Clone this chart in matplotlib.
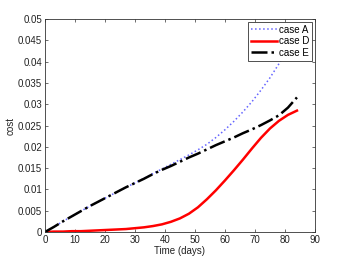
import numpy as np
import matplotlib.pyplot as plt

# values
days = [0, 3, 6, 9, 12, 15, 18, 21, 24, 27, 30, 33, 36, 39, 42, 45, 48, 51, 54,
        57, 60, 63, 66, 69, 72, 75, 78, 81, 84]
case_a = [0, 0.0012, 0.0025, 0.0037, 0.0049, 0.0061, 0.0072, 0.0083, 0.0094, 0.0105,
          0.0115, 0.0126, 0.0137, 0.0148, 0.0159, 0.0170, 0.0181, 0.0193, 0.0206,
          0.0222, 0.0240, 0.0260, 0.0282, 0.0306, 0.0333, 0.0362, 0.0395, 0.0430, 0.0468]
case_d = [0, 0.0001, 0.0001, 0.0002, 0.0002, 0.0003, 0.0004, 0.0005, 0.0006, 0.0007,
          0.0009, 0.0011, 0.0014, 0.0018, 0.0024, 0.0032, 0.0043, 0.0058, 0.0077,
          0.0098, 0.0121, 0.0145, 0.0170, 0.0196, 0.0221, 0.0243, 0.0261, 0.0275, 0.0285]
case_e = [0, 0.0012, 0.0025, 0.0037, 0.0049, 0.0061, 0.0072, 0.0083, 0.0094, 0.0105,
          0.0115, 0.0125, 0.0136, 0.0146, 0.0155, 0.0165, 0.0175, 0.0184, 0.0194,
          0.0204, 0.0213, 0.0222, 0.0232, 0.0241, 0.0251, 0.0262, 0.0274, 0.0292, 0.0316]

plt.rcParams['font.family'] = ['Liberation Sans', 'DejaVu Sans']
plt.rcParams['font.size'] = 7

fig = plt.figure(figsize=(3.48, 2.61), dpi=100)
ax = fig.add_axes([0.129, 0.111, 0.776, 0.816])

ax.plot(days, case_a, ':', color='#6464ff', linewidth=1.1, label='case A')
ax.plot(days, case_d, '-', color='red', linewidth=1.8, label='case D')
ax.plot(days, case_e, '-.', color='black', linewidth=1.8, label='case E')

ax.set_xlim(0, 90)
ax.set_ylim(0, 0.05)
ax.set_xticks(np.arange(0, 91, 10))
ax.set_yticks(np.arange(0, 0.0501, 0.005))
ax.set_yticklabels(['0', '0.005', '0.01', '0.015', '0.02', '0.025', '0.03',
                    '0.035', '0.04', '0.045', '0.05'])
ax.tick_params(direction='in', top=True, right=True, length=2.5, width=0.5, pad=2,
               labelsize=7, labelcolor='#222222', color='#333333')
for s in ax.spines.values():
    s.set_linewidth(0.6)
    s.set_color('#333333')

ax.set_xlabel('Time (days)', fontsize=7, labelpad=1, color='#222222')
ax.set_ylabel('cost', fontsize=7, labelpad=2, color='#222222')

leg = ax.legend(loc='upper right', fontsize=7, fancybox=False, framealpha=1,
                edgecolor='#333333', borderpad=0.3, labelspacing=0.15,
                handlelength=2.7, handletextpad=0.2, borderaxespad=0.3)
leg.get_frame().set_linewidth(0.6)

fig.savefig('out.png', dpi=100)
